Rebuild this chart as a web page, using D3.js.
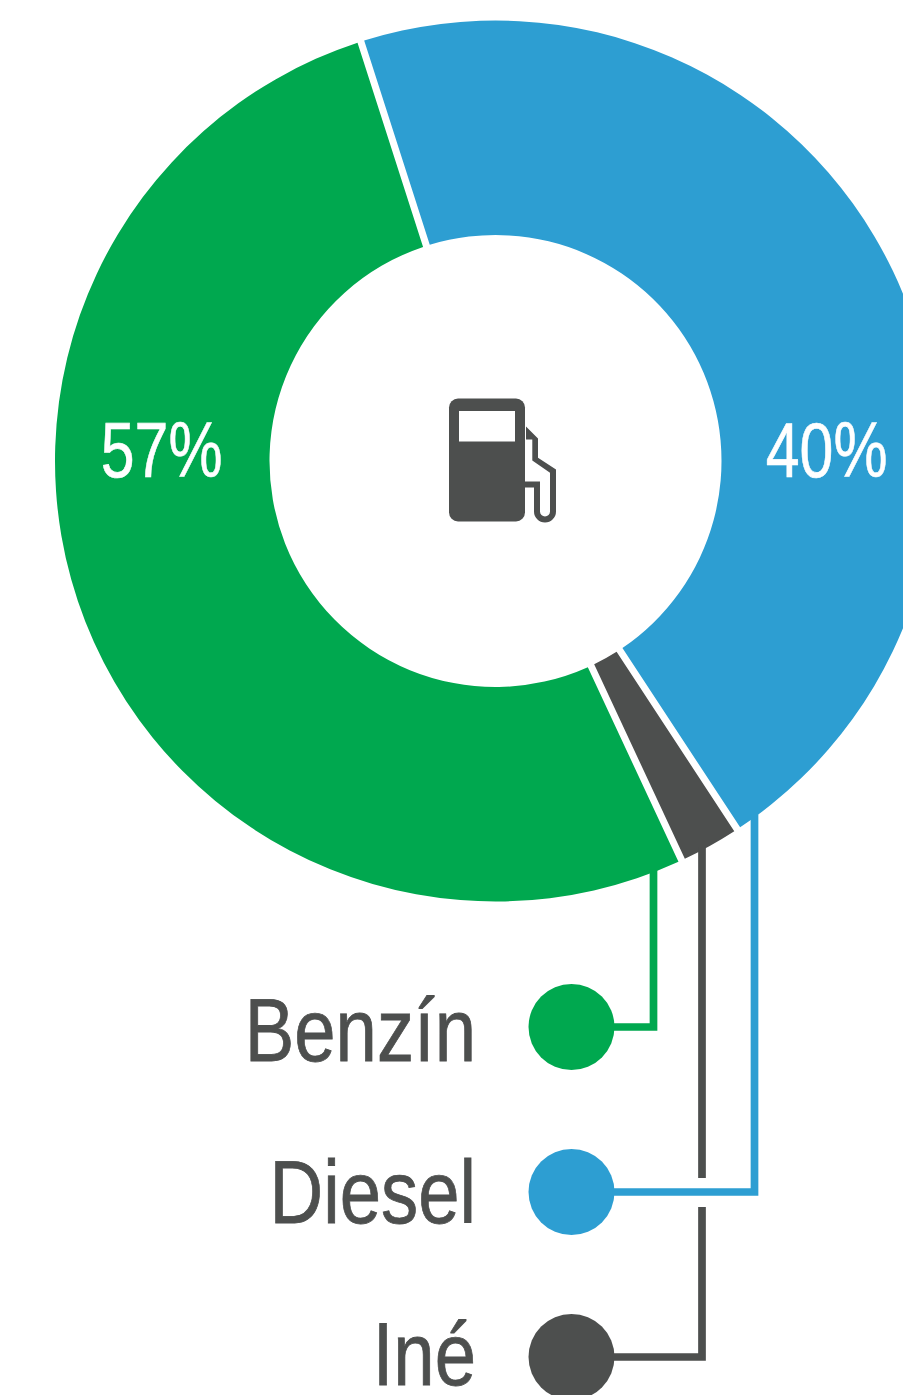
<!DOCTYPE html>
<html>
<head>
<meta charset="utf-8">
<script src="https://cdn.jsdelivr.net/npm/d3@7"></script>
<style>
  html, body { margin: 0; background: #fff; }
  svg { display: block; }
  text { font-family: "Liberation Sans", Arial, sans-serif; }
</style>
</head>
<body>
<svg id="chart" width="903" height="1395"></svg>
<script>
const categories = ["Benzín", "Diesel", "Iné"];
// share of the ring as drawn, the printed percentages don't match the wedges
const ringShares = [52, 45.7, 2.3];
const printedLabels = ["57%", "40%"];
const colors = ["#00A84F", "#2D9ED2", "#4D4F4E"];

const cx = 495.5, cy = 461;
const outer = 440.5, inner = 226;
const gap = 7;

const svg = d3.select("#chart");
const color = d3.scaleOrdinal(categories, colors);

const pie = d3.pie()
    .sort(null)
    .startAngle(155 * Math.PI / 180)
    .endAngle(515 * Math.PI / 180);

const arc = d3.arc()
    .innerRadius(inner)
    .outerRadius(outer)
    .padRadius(outer)
    .padAngle(gap / outer);

const slices = pie(ringShares).map((d, i) => ({ ...d, name: categories[i] }));

svg.append("g")
    .attr("transform", `translate(${cx},${cy})`)
    .selectAll("path")
    .data(slices)
    .enter()
    .append("path")
    .attr("d", arc)
    .attr("fill", d => color(d.name));

// percent labels, the type in the source is squeezed horizontally
const labelEnd = [222.5, 887.5];
svg.selectAll("text.pct")
    .data(printedLabels)
    .enter()
    .append("text")
    .attr("class", "pct")
    .attr("transform", (d, i) => `translate(${labelEnd[i]},476.5) scale(0.79,1)`)
    .attr("text-anchor", "end")
    .attr("font-size", 77)
    .attr("fill", "#fff")
    .attr("stroke", "#fff")
    .attr("stroke-width", 0.6)
    .text(d => d);

// legend
const dotY = d3.scalePoint().domain(categories).range([1027, 1357]);
const nameY = d3.scalePoint().domain(categories).range([1061, 1385]);
const dotX = 571.5, dotR = 43;

svg.selectAll("circle")
    .data(categories)
    .enter()
    .append("circle")
    .attr("cx", dotX)
    .attr("cy", d => dotY(d))
    .attr("r", dotR)
    .attr("fill", d => color(d));

svg.selectAll("text.name")
    .data(categories)
    .enter()
    .append("text")
    .attr("class", "name")
    .attr("transform", d => `translate(476,${nameY(d)}) scale(0.835,1)`)
    .attr("text-anchor", "end")
    .attr("font-size", 89)
    .attr("fill", colors[2])
    .attr("stroke", colors[2])
    .attr("stroke-width", 0.8)
    .text(d => d);

// connectors from the ring down to the legend dots
const ringBottom = x => cy + Math.sqrt(outer * outer - (x - cx) * (x - cx)) - 3;
const route = { "Benzín": 653.5, "Diesel": 754.5, "Iné": 702 };
const line = d3.line();
const linkEnd = dotX + dotR - 2;
const crossY = dotY("Diesel");

const links = {
    "Benzín": line([[route["Benzín"], ringBottom(route["Benzín"])], [route["Benzín"], dotY("Benzín")], [linkEnd, dotY("Benzín")]]),
    "Diesel": line([[route["Diesel"], ringBottom(route["Diesel"])], [route["Diesel"], crossY], [linkEnd, crossY]]),
    // dark line breaks where the blue one crosses it
    "Iné": line([[route["Iné"], ringBottom(route["Iné"])], [route["Iné"], crossY - 14]])
        + line([[route["Iné"], crossY + 15], [route["Iné"], dotY("Iné")], [linkEnd, dotY("Iné")]])
};

svg.selectAll("path.link")
    .data(categories)
    .enter()
    .append("path")
    .attr("class", "link")
    .attr("fill", "none")
    .attr("stroke", d => color(d))
    .attr("stroke-width", 7.7)
    .attr("d", d => links[d]);

// fuel pump icon
const icon = svg.append("g");
icon.append("rect")
    .attr("x", 449).attr("y", 398.5)
    .attr("width", 76).attr("height", 123)
    .attr("rx", 9)
    .attr("fill", colors[2]);
icon.append("rect")
    .attr("x", 459).attr("y", 411)
    .attr("width", 56).attr("height", 30.5)
    .attr("fill", "#fff");
icon.append("path")
    .attr("fill", colors[2])
    .attr("d", "M526,426.5 L538,438.5 V457.7 L556,469.5 V511.5 A11,11 0 0 1 534,511.5 V487.5 H525 V481.5 H540 V511.5 A5,5 0 0 0 550,511.5 V472.8 L532.3,460.5 V439.5 H526 Z");
</script>
</body>
</html>
